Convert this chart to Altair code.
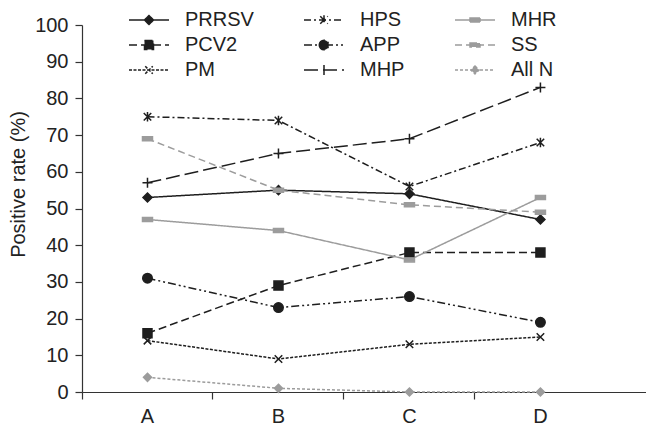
import altair as alt
import pandas as pd

FONT = "Liberation Sans"

groups = ["A", "B", "C", "D"]
# legend order (filled column by column, 3 columns)
series_order = ["PRRSV", "PCV2", "PM", "HPS", "APP", "MHP", "MHR", "SS", "All N"]

prrsv = [53, 55, 54, 47]
pcv2 = [16, 29, 38, 38]
pm = [14, 9, 13, 15]
hps = [75, 74, 56, 68]
app = [31, 23, 26, 19]
mhp = [57, 65, 69, 83]
mhr = [47, 44, 36, 53]
ss = [69, 55, 51, 49]
all_n = [4, 1, 0, 0]

values = {
    "PRRSV": prrsv, "PCV2": pcv2, "PM": pm, "HPS": hps, "APP": app,
    "MHP": mhp, "MHR": mhr, "SS": ss, "All N": all_n,
}

rows = []
for s in series_order:
    for g, v in zip(groups, values[s]):
        rows.append({"group": g, "series": s, "value": v})
df = pd.DataFrame(rows)

BLK = "#1e1e1e"
GRY = "#9c9c9c"
#               PRRSV PCV2 PM   HPS  APP  MHP  MHR  SS   AllN
stroke_range = [BLK, BLK, BLK, BLK, BLK, BLK, GRY, GRY, GRY]
fill_range = [BLK, BLK, "transparent", "transparent", BLK, "transparent", GRY, GRY, GRY]
dash_range = [[1, 0], [8, 4], [3, 1.5], [7, 3, 2, 3], [8, 3, 2, 3, 2, 3], [14, 5],
              [1, 0], [7, 4], [3, 2]]

diamond = "M0,-0.9L0.9,0L0,0.9L-0.9,0Z"
square = "M-0.9,-0.9L0.9,-0.9L0.9,0.9L-0.9,0.9Z"
xmark = "M-0.75,-0.75L0.75,0.75M-0.75,0.75L0.75,-0.75"
aster = "M-0.75,-0.75L0.75,0.75M-0.75,0.75L0.75,-0.75M0,-0.95L0,0.95"
circle = "M-0.95,0A0.95,0.95 0 1,0 0.95,0A0.95,0.95 0 1,0 -0.95,0Z"
plus = "M-1,0L1,0M0,-1L0,1"
vbar = "M0,-1L0,1"
rect = "M-1,-0.4L1,-0.4L1,0.4L-1,0.4Z"
sdiamond = "M0,-0.8L0.8,0L0,0.8L-0.8,0Z"
seg = "M-4,0L4,0"

marker_range = [diamond, square, xmark, aster, circle, plus, rect, rect, sdiamond]
legend_range = [seg + m for m in [diamond, square, xmark, aster, circle, vbar, rect, rect, sdiamond]]

x_enc = alt.X(
    "group:N",
    sort=groups,
    scale=alt.Scale(type="band", paddingInner=0, paddingOuter=0.153, align=0),
    axis=alt.Axis(
        title=None, labelAngle=0, bandPosition=0, tickExtra=False,
        labelFont=FONT, labelFontSize=20, labelColor="#222", labelPadding=7,
        tickSize=7, tickColor="#333", tickWidth=1.2,
        domainColor="#333", domainWidth=1.2, grid=False,
    ),
)
y_enc = alt.Y(
    "value:Q",
    scale=alt.Scale(domain=[0, 100], nice=False),
    axis=alt.Axis(
        values=list(range(0, 101, 10)), title="Positive rate (%)", grid=False,
        labelFont=FONT, labelFontSize=20, labelColor="#222", labelPadding=7,
        tickSize=7, tickColor="#333", tickWidth=1.2,
        domainColor="#333", domainWidth=1.2,
        titleFont=FONT, titleFontSize=20, titleFontWeight="normal", titleColor="#222",
        titlePadding=6, titleY=159,
    ),
)

base = alt.Chart(df)

lines = base.mark_line(strokeWidth=1.5).encode(
    x=x_enc,
    y=y_enc,
    detail="series:N",
    stroke=alt.Stroke("series:N", scale=alt.Scale(domain=series_order, range=stroke_range), legend=None),
    strokeDash=alt.StrokeDash("series:N", scale=alt.Scale(domain=series_order, range=dash_range), legend=None),
)

markers = base.mark_point(strokeWidth=1.5, size=100, opacity=1).encode(
    x=x_enc,
    y=y_enc,
    shape=alt.Shape("series:N", scale=alt.Scale(domain=series_order, range=marker_range), legend=None),
    stroke=alt.Stroke("series:N", scale=alt.Scale(domain=series_order, range=stroke_range), legend=None),
    fill=alt.Fill("series:N", scale=alt.Scale(domain=series_order, range=fill_range), legend=None),
)

leg = alt.Legend(
    title=None, orient="none", legendX=47, legendY=-15, columns=3,
    columnPadding=47, rowPadding=5, padding=0,
    labelFont=FONT, labelFontSize=20, labelColor="#222",
    symbolSize=100, symbolStrokeWidth=1.5, symbolOffset=10, labelOffset=26,
)

legend_layer = base.transform_filter(alt.datum.value < -1).mark_point(
    strokeWidth=1.5, size=100, opacity=1
).encode(
    x=x_enc,
    y=y_enc,
    shape=alt.Shape("series:N", scale=alt.Scale(domain=series_order, range=legend_range), legend=leg),
    stroke=alt.Stroke("series:N", scale=alt.Scale(domain=series_order, range=stroke_range), legend=leg),
    fill=alt.Fill("series:N", scale=alt.Scale(domain=series_order, range=fill_range), legend=leg),
    strokeDash=alt.StrokeDash("series:N", scale=alt.Scale(domain=series_order, range=dash_range), legend=leg),
)

chart = (
    alt.layer(lines, markers, legend_layer)
    .resolve_scale(stroke="independent", fill="independent", shape="independent", strokeDash="independent")
    .properties(width=564, height=367, padding={"left": 0, "top": 2, "right": 0, "bottom": 0})
    .configure_view(stroke=None)
)

chart.save("out.html", embed_options={"renderer": "svg", "actions": False})
